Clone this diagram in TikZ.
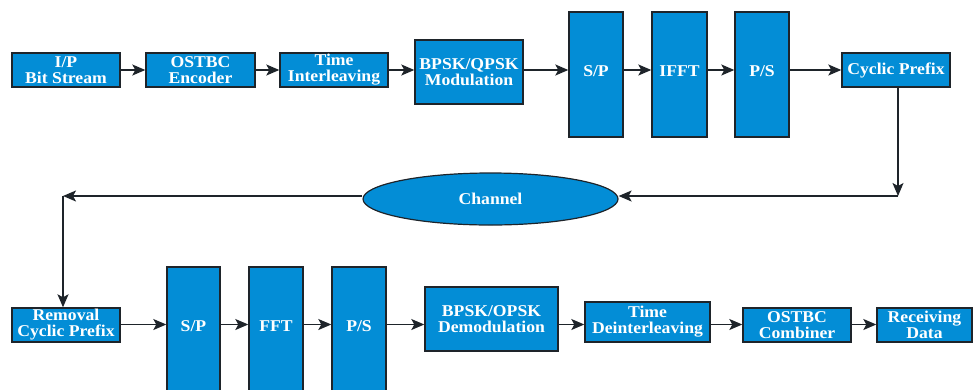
\documentclass[tikz,border=0pt]{standalone}
\usepackage{fontspec}
\newfontfamily\boxfont{Liberation Serif}[FakeStretch=1.07]
\usetikzlibrary{arrows.meta,shapes.geometric}
\definecolor{boxblue}{RGB}{3,141,214}
\definecolor{edge}{RGB}{30,36,42}
\begin{document}
\begin{tikzpicture}[x=1pt,y=-1pt,
  blk/.style={draw=edge,line width=1.4pt,fill=boxblue,text=white,inner sep=0pt,
    align=center,font=\boxfont\bfseries\fontsize{16.5}{16}\selectfont},
  arr/.style={draw=edge,line width=1.4pt,-{Stealth[length=13pt,width=11pt,inset=3pt]}}]
\useasboundingbox (0,0) rectangle (976,389);
\clip (0,0) rectangle (976,389);
% row 1
\node[blk,minimum width=108pt,minimum height=34pt] (ip) at (66,70) {I/P\\Bit Stream};
\node[blk,minimum width=109pt,minimum height=34pt] (enc) at (200.5,70) {OSTBC\\Encoder};
\node[blk,minimum width=108pt,minimum height=34pt] (til) at (334,70) {Time\\Interleaving};
\node[blk,minimum width=108pt,minimum height=64pt] (mod) at (469,72) {BPSK/QPSK\\Modulation};
\node[blk,minimum width=54pt,minimum height=125pt] (sp1) at (596,74.5) {\raisebox{6pt}{S/P}};
\node[blk,minimum width=55pt,minimum height=125pt] (ifft) at (679.5,74.5) {\raisebox{6pt}{IFFT}};
\node[blk,minimum width=54pt,minimum height=125pt] (ps1) at (762,74.5) {\raisebox{6pt}{P/S}};
\node[blk,minimum width=108pt,minimum height=34pt] (cp) at (896,70) {Cyclic Prefix};
% channel
\node[blk,ellipse,line width=1.2pt,minimum width=255pt,minimum height=52pt] (ch) at (490.5,199) {Channel};
% row 2
\node[blk,minimum width=108pt,minimum height=34pt] (rcp) at (66,325) {Removal\\Cyclic Prefix};
\node[blk,minimum width=53pt,minimum height=125pt] (sp2) at (193.5,329.5) {\raisebox{7pt}{S/P}};
\node[blk,minimum width=54pt,minimum height=125pt] (fft) at (276,329.5) {\raisebox{7pt}{FFT}};
\node[blk,minimum width=54pt,minimum height=125pt] (ps2) at (359,329.5) {\raisebox{7pt}{P/S}};
\node[blk,minimum width=133pt,minimum height=64pt] (demod) at (491.5,319) {BPSK/OPSK\\Demodulation};
\node[blk,minimum width=125pt,minimum height=40pt] (tdi) at (647.5,322) {Time\\Deinterleaving};
\node[blk,minimum width=108pt,minimum height=34pt] (comb) at (797,325) {OSTBC\\Combiner};
\node[blk,minimum width=95pt,minimum height=34pt] (rd) at (924.5,325) {Receiving\\Data};
% connectors row 1
\draw[arr] (ip) -- (enc);
\draw[arr] (enc) -- (til);
\draw[arr] (til.east) -- (mod.west |- til);
\draw[arr] (mod.east |- ip) -- (sp1.west |- ip);
\draw[arr] (sp1.east |- ip) -- (ifft.west |- ip);
\draw[arr] (ifft.east |- ip) -- (ps1.west |- ip);
\draw[arr] (ps1.east |- ip) -- (cp.west);
% feedback path
\coordinate (c1) at (898,196);
\coordinate (c2) at (63,196);
\draw[arr] (cp.south -| c1) -- (c1);
\draw[arr] (c1) -- (ch.east |- c1);
\draw[arr] (ch.west |- c2) -- (c2);
\draw[arr] (c2) -- (rcp.north -| c2);
% row 2
\coordinate (r2) at (0,324.5);
\draw[arr] (rcp.east |- r2) -- (sp2.west |- r2);
\draw[arr] (sp2.east |- r2) -- (fft.west |- r2);
\draw[arr] (fft.east |- r2) -- (ps2.west |- r2);
\draw[arr] (ps2.east |- r2) -- (demod.west |- r2);
\draw[arr] (demod.east |- r2) -- (tdi.west |- r2);
\draw[arr] (tdi.east |- r2) -- (comb.west |- r2);
\draw[arr] (comb.east |- r2) -- (rd.west |- r2);
\end{tikzpicture}
\end{document}
